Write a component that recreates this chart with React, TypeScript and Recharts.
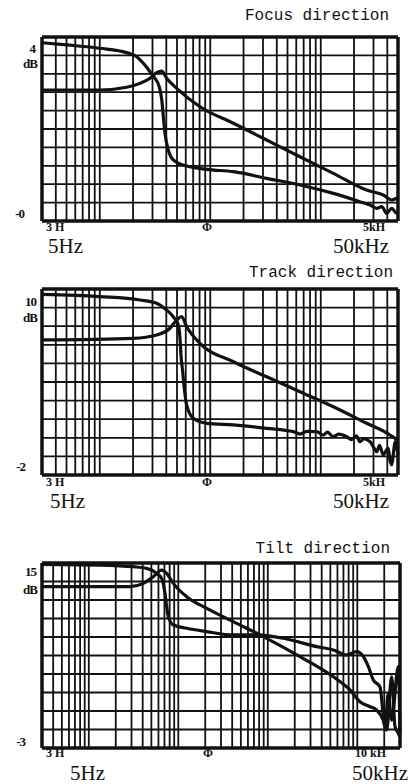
import React from 'react'
import { LineChart, Line, XAxis, YAxis, ReferenceLine } from 'recharts'

// Frequency (Hz) and level (grid divisions from the bottom, 0..10)

// Focus direction
const focusUpperF = [3, 5, 10, 17.5, 21.6, 24.8, 28.5, 31.6, 34.5, 36.4, 37.6, 38.9, 41.7, 46.2, 57, 93, 162, 324, 648, 1300, 2260, 2790, 3210, 3560, 3950, 4390, 4870, 5000]
const focusUpperV = [9.69, 9.57, 9.39, 9.15, 8.93, 8.57, 8.11, 7.76, 7.3, 6.58, 5.67, 4.77, 3.86, 3.32, 3.04, 2.81, 2.68, 2.32, 1.96, 1.5, 1.05, 0.87, 0.69, 0.78, 0.42, 0.69, 0.42, 0.5]
const focusLowerF = [3, 10, 17.5, 23.1, 28.5, 32.7, 36.4, 40.3, 49.7, 80.7, 162, 324, 648, 1300, 2600, 3680, 4390, 4870, 5000]
const focusLowerV = [7.12, 7.12, 7.27, 7.48, 7.76, 8.06, 8.15, 7.76, 7.21, 6.21, 5.31, 4.4, 3.49, 2.59, 1.68, 1.41, 1.14, 1.23, 1.1]

// Track direction
const trackUpperF = [3, 10, 23.1, 32.7, 40.3, 46.2, 51.4, 53.2, 54.3, 56.3, 58.2, 61.2, 70.2, 92.8, 162, 324, 564, 650, 750, 918, 1050, 1150, 1300, 1450, 1717, 1900, 2100, 2264, 2450, 2790, 3000, 3210, 3400, 3680, 3900, 4080, 4230, 4390, 4550, 4700, 5000]
const trackUpperV = [9.71, 9.59, 9.41, 9.23, 8.87, 8.51, 8.06, 7.35, 6.45, 5.55, 4.66, 3.76, 3.05, 2.78, 2.69, 2.51, 2.33, 2.2, 2.35, 2.33, 2.15, 2.3, 2.06, 2.2, 2.06, 1.9, 2.1, 1.79, 1.95, 1.79, 1.5, 1.25, 1.6, 1.08, 1.3, 1.43, 0.8, 0.54, 1.2, 1.79, 1.08]
const trackLowerF = [3, 20.1, 32.7, 43.2, 49.7, 55.1, 61.2, 80.7, 162, 324, 648, 1300, 2600, 4230, 4870, 5000]
const trackLowerV = [7.26, 7.35, 7.53, 7.89, 8.33, 8.51, 7.97, 7.08, 6.09, 5.28, 4.48, 3.67, 2.78, 2.15, 1.88, 1.8]

// Tilt direction
const tiltUpperF = [3, 13.3, 31.4, 44.4, 57.3, 65.2, 71, 74.2, 77.3, 87.9, 124, 208, 411, 752, 1490, 3520, 5400, 7610, 9840, 11700, 13300, 15100, 17900, 20400, 22200, 24200, 28700, 30000]
const tiltUpperV = [9.93, 9.89, 9.8, 9.71, 9.44, 9.17, 8.36, 7.64, 7.1, 6.65, 6.47, 6.29, 6.11, 6.11, 5.93, 5.48, 5.3, 5.03, 5.21, 4.94, 4.4, 3.68, 3.31, 1.15, 2.96, 1.51, 4.4, 0.79]
const tiltLowerF = [3, 28.9, 40.6, 52.5, 65.2, 74.2, 87.9, 124, 208, 411, 973, 2290, 5400, 8290, 10700, 13900, 16500, 19500, 21300, 24200, 26400, 28700, 30000]
const tiltLowerV = [8.72, 8.72, 8.9, 9.26, 9.62, 9.44, 8.9, 8.18, 7.55, 6.83, 5.93, 4.94, 3.85, 3.14, 2.5, 2.23, 2.05, 1.51, 0.97, 3.85, 1.15, 0.79, 0.6]

// log grid lines
const gridShort = [4, 5, 6, 7, 8, 9, 10, 20, 30, 40, 50, 60, 70, 80, 90, 100, 200, 300, 400, 500, 600, 700, 800, 900, 1000, 2000, 3000, 4000]
const gridLong = [...gridShort, 5000, 6000, 7000, 8000, 9000, 10000, 20000]
const gridRows = [1, 2, 3, 4, 5, 6, 7, 8, 9]

const ink = '#111'
const zip = (f: number[], v: number[]) => f.map((x, i) => ({ f: x, v: v[i] }))

interface PanelProps {
    top: number
    height: number
    margin: { top: number; right: number; bottom: number; left: number }
    domain: [number, number]
    grid: number[]
    upper: { f: number; v: number }[]
    lower: { f: number; v: number }[]
}

function Panel({ top, height, margin, domain, grid, upper, lower }: PanelProps) {
    return (
        <div style={{ position: 'absolute', left: 0, top }}>
            <LineChart width={415} height={height} margin={margin}>
                <XAxis dataKey="f" type="number" scale="log" domain={domain} hide allowDuplicatedCategory={false} />
                <YAxis type="number" domain={[0, 10]} hide />
                {grid.map(g => (
                    <ReferenceLine key={`v${g}`} x={g} stroke={ink} strokeWidth={1.8} />
                ))}
                {gridRows.map(r => (
                    <ReferenceLine key={`h${r}`} y={r} stroke={ink} strokeWidth={1.8} />
                ))}
                <ReferenceLine x={domain[0]} stroke={ink} strokeWidth={3.5} />
                <ReferenceLine x={domain[1]} stroke={ink} strokeWidth={3.5} />
                <ReferenceLine y={0} stroke={ink} strokeWidth={3.5} />
                <ReferenceLine y={10} stroke={ink} strokeWidth={3.5} />
                <Line data={upper} dataKey="v" type="monotone" stroke={ink} strokeWidth={3.2} dot={false} isAnimationActive={false} />
                <Line data={lower} dataKey="v" type="monotone" stroke={ink} strokeWidth={3.2} dot={false} isAnimationActive={false} />
            </LineChart>
        </div>
    )
}

const mono = '"Liberation Mono", "DejaVu Sans Mono", monospace'
const serif = '"Liberation Serif", "DejaVu Serif", serif'

export default function App() {
    return (
        <div style={{ position: 'absolute', left: 0, top: 0, width: 415, height: 784, background: '#fff', overflow: 'hidden' }}>
            <Panel top={0} height={240} margin={{ top: 37, right: 17, bottom: 19, left: 42 }} domain={[3, 5000]} grid={gridShort}
                upper={zip(focusUpperF, focusUpperV)} lower={zip(focusLowerF, focusLowerV)} />
            <Panel top={260} height={240} margin={{ top: 29, right: 17, bottom: 25, left: 42 }} domain={[3, 5000]} grid={gridShort}
                upper={zip(trackUpperF, trackUpperV)} lower={zip(trackLowerF, trackLowerV)} />
            <Panel top={530} height={240} margin={{ top: 33, right: 15, bottom: 22, left: 42 }} domain={[3, 30000]} grid={gridLong}
                upper={zip(tiltUpperF, tiltUpperV)} lower={zip(tiltLowerF, tiltLowerV)} />

            {/* titles and axis captions */}
            <svg width={415} height={784} style={{ position: 'absolute', left: 0, top: 0, pointerEvents: 'none' }}>
                <g fontFamily={mono} fontSize={16} fill={ink} textAnchor="end">
                    <text x={389} y={20}>Focus direction</text>
                    <text x={393} y={277}>Track direction</text>
                    <text x={390} y={553}>Tilt direction</text>
                </g>
                <g fontFamily={serif} fontSize={13} fontWeight="bold" fill={ink} textAnchor="end" letterSpacing={-1}>
                    <text x={35} y={53}>4</text>
                    <text x={37} y={68}>dB</text>
                    <text x={24} y={218}>-0</text>
                    <text x={36} y={306}>10</text>
                    <text x={37} y={322}>dB</text>
                    <text x={25} y={471}>-2</text>
                    <text x={36} y={576}>15</text>
                    <text x={37} y={594}>dB</text>
                    <text x={25} y={746}>-3</text>
                </g>
                <g fontFamily={serif} fontSize={12} fontWeight="bold" fill={ink}>
                    <text x={46} y={231}>3 H</text>
                    <text x={202} y={231}>Φ</text>
                    <text x={363} y={231}>5kH</text>
                    <text x={46} y={486}>3 H</text>
                    <text x={202} y={486}>Φ</text>
                    <text x={363} y={486}>5kH</text>
                    <text x={46} y={757}>3 H</text>
                    <text x={203} y={757}>Φ</text>
                    <text x={355} y={757}>10 kH</text>
                </g>
                <g fontFamily={serif} fontSize={21} fill={ink}>
                    <text x={48} y={253}>5Hz</text>
                    <text x={389} y={253} textAnchor="end">50kHz</text>
                    <text x={50} y={508}>5Hz</text>
                    <text x={389} y={508} textAnchor="end">50kHz</text>
                    <text x={70} y={780}>5Hz</text>
                    <text x={408} y={780} textAnchor="end">50kHz</text>
                </g>
            </svg>
        </div>
    )
}
